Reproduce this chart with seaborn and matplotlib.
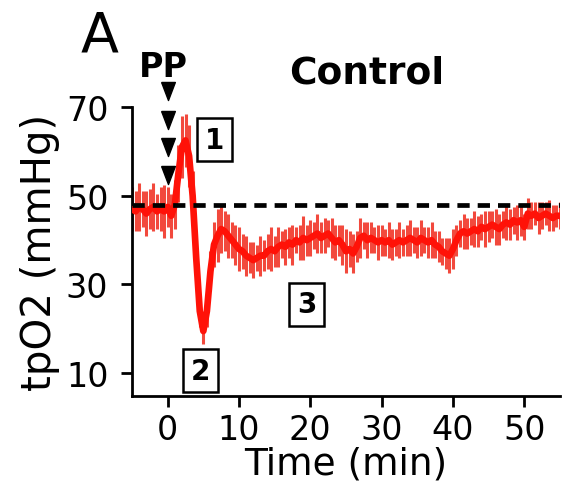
import numpy as np
import pandas as pd
import matplotlib
matplotlib.use("Agg")
import matplotlib.pyplot as plt
import seaborn as sns

# Thời gian (phút), bước 0.5 phút
time_min = np.arange(-5.0, 55.01, 0.5)

# Giá trị trung bình tpO2 (mmHg)
tpo2_mean = [
    47.0, 46.5, 47.5, 47.0, 46.0, 47.0, 47.5, 46.5, 47.0, 46.5,
    47.5, 45.5, 48.0, 55.0, 61.0, 62.5, 59.0, 50.0, 36.0, 24.0,
    19.5, 24.0, 33.0, 39.0, 41.0, 42.5, 42.0, 41.0, 40.0, 39.0,
    38.0, 37.5, 36.5, 36.0, 35.5, 36.0, 36.5, 36.5, 37.5, 38.0,
    37.5, 38.5, 39.0, 38.5, 39.5, 39.0, 40.0, 39.5, 40.5, 40.0,
    40.5, 41.0, 41.5, 40.5, 41.0, 41.5, 40.5, 39.5, 40.0, 39.0,
    37.5, 38.0, 37.0, 38.5, 40.5, 41.0, 40.0, 40.5, 40.0, 39.5,
    40.0, 39.5, 40.0, 39.0, 39.5, 40.0, 39.5, 40.0, 40.5, 40.0,
    39.5, 40.5, 40.0, 39.5, 40.0, 39.0, 38.5, 37.5, 37.0, 36.5,
    38.0, 40.0, 41.5, 42.0, 41.5, 42.0, 42.5, 42.0, 43.0, 42.5,
    43.0, 43.5, 43.0, 42.5, 43.5, 44.0, 43.5, 44.5, 44.0, 44.5,
    43.0, 46.0, 45.5, 46.0, 45.0, 45.5, 46.0, 45.5, 45.0, 45.5,
    45.5,
]

# Sai số (nửa chiều dài thanh lỗi)
tpo2_err = [
    5.0, 4.5, 5.5, 4.0, 5.0, 4.5, 5.5, 4.0, 5.0, 6.0,
    4.5, 5.0, 5.5, 6.5, 7.0, 6.0, 7.0, 5.5, 4.0, 3.5,
    3.0, 3.5, 4.5, 5.0, 6.0, 5.5, 4.5, 5.0, 4.0, 4.5,
    5.0, 4.0, 4.5, 3.5, 4.0, 3.0, 4.5, 3.5, 4.0, 5.0,
    3.5, 4.5, 3.0, 4.0, 3.5, 4.5, 3.0, 4.0, 5.0, 3.5,
    4.0, 3.0, 4.5, 3.5, 4.0, 3.0, 4.5, 4.0, 3.5, 4.5,
    5.0, 4.0, 4.5, 3.5, 4.5, 3.0, 4.0, 3.5, 3.0, 4.0,
    3.5, 3.0, 4.0, 3.5, 3.0, 4.0, 3.0, 3.5, 4.0, 3.0,
    3.5, 4.0, 3.0, 3.5, 4.0, 3.0, 3.5, 3.0, 3.5, 4.0,
    4.5, 3.5, 3.0, 4.0, 3.5, 3.0, 4.0, 3.5, 3.0, 4.0,
    3.5, 3.0, 4.0, 3.5, 3.0, 4.0, 3.5, 3.0, 4.0, 3.5,
    3.0, 3.5, 3.0, 2.5, 3.5, 3.0, 2.5, 3.5, 3.0, 2.5,
    3.0,
]

baseline = 48.0
pp_arrow_y = [73.6, 67.1, 61.0, 54.7]

box_labels = ["1", "2", "3"]
box_x = [6.6, 4.6, 19.5]
box_y = [62.7, 10.6, 25.5]

df = pd.DataFrame({"time": time_min, "tpo2": tpo2_mean, "err": tpo2_err})

sns.set_style("ticks")
plt.rcParams["font.family"] = ["DejaVu Sans"]
plt.rcParams["text.color"] = "black"
plt.rcParams["axes.labelcolor"] = "black"

fig = plt.figure(figsize=(5.63, 4.85), dpi=100)
ax = fig.add_axes([0.2345, 0.181, 0.76, 0.596])

ax.vlines(df["time"], df["tpo2"] - df["err"], df["tpo2"] + df["err"],
          color="#f2493d", linewidth=2.2, zorder=2)
sns.lineplot(data=df, x="time", y="tpo2", ax=ax, color="#ff1208",
             linewidth=4.8, zorder=3)

ax.axhline(baseline, color="black", linestyle=(0, (2.6, 1.7)),
           linewidth=3.4, zorder=4)

# mũi tên PP: tam giác hẹp chỉ xuống
arrow = [(-0.38, 0.5), (0.38, 0.5), (0, -0.5), (-0.38, 0.5)]
ax.plot([0] * len(pp_arrow_y), pp_arrow_y, linestyle="none", marker=arrow,
        markersize=13, color="black", clip_on=False, zorder=5)
fig.text(163 / 563, 1 - 68 / 485, "PP", ha="center", va="center",
         fontsize=24, fontweight="bold")

for lab, bx, by in zip(box_labels, box_x, box_y):
    ax.text(bx, by, lab, ha="center", va="center", fontsize=20,
            fontweight="bold",
            bbox=dict(boxstyle="square,pad=0.28", fc="white", ec="black",
                      lw=1.8))

fig.text(367 / 563, 1 - 73 / 485, "Control", ha="center", va="center",
         fontsize=27, fontweight="bold")
fig.text(100 / 563, 1 - 37 / 485, "A", ha="center", va="center",
         fontsize=40)

ax.set_xlim(-5, 55)
ax.set_ylim(4.8, 70)
ax.set_xticks([0, 10, 20, 30, 40, 50])
ax.set_yticks([10, 30, 50, 70])
ax.tick_params(labelsize=24, width=2, length=8, color="black",
               labelcolor="black")
ax.tick_params(axis="y", pad=9)
ax.tick_params(axis="x", pad=4)
ax.set_xlabel("Time (min)", fontsize=27, labelpad=0)
ax.set_ylabel("tpO2 (mmHg)", fontsize=29, labelpad=4)
for side in ["left", "bottom"]:
    ax.spines[side].set_linewidth(2)
    ax.spines[side].set_color("black")
sns.despine(ax=ax)

fig.savefig("out.png", dpi=100)
